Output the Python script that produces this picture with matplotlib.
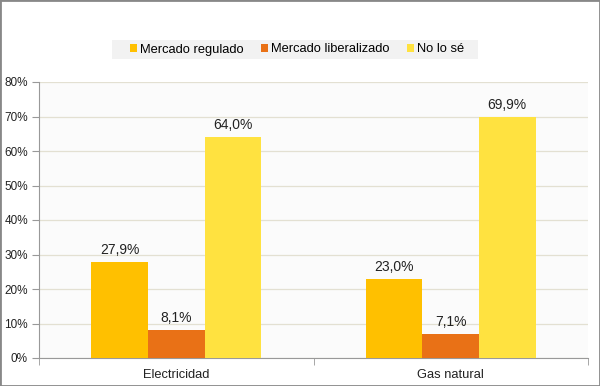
import matplotlib
matplotlib.use("Agg")
import matplotlib.pyplot as plt
import numpy as np
from matplotlib.patches import Rectangle

categories = ["Electricidad", "Gas natural"]
series_names = ["Mercado regulado", "Mercado liberalizado", "No lo sé"]
regulado = [27.9, 23.0]
liberalizado = [8.1, 7.1]
no_lo_se = [64.0, 69.9]
yticks = [0, 10, 20, 30, 40, 50, 60, 70, 80]

colors = ["#FFC000", "#E97116", "#FFE240"]

plt.rcParams['font.family'] = ['Liberation Sans', 'DejaVu Sans']

fig = plt.figure(figsize=(6, 3.86), dpi=100)
ax = fig.add_axes([39/600, 28/386, 549/600, 276/386])
ax.set_facecolor("#FBFBFB")

x = np.arange(len(categories))
w = 0.206
data = [regulado, liberalizado, no_lo_se]
for i, (vals, name, c) in enumerate(zip(data, series_names, colors)):
    pos = x + (i - 1) * w
    bars = ax.bar(pos, vals, width=w, color=c, label=name, zorder=3)
    for b, v in zip(bars, vals):
        ax.text(b.get_x() + b.get_width()/2, v + 1.4, f"{v:.1f}%".replace(".", ","),
                ha="center", va="bottom", fontsize=10, color="#222222", zorder=4)

ax.set_xlim(-0.5, 1.5)
ax.set_ylim(0, 80)
ax.set_yticks(yticks)
ax.set_yticklabels([f"{t}%" for t in yticks], fontsize=8.5, color="#222222")
ax.yaxis.grid(True, color="#E3E0D2", linewidth=0.9, zorder=0)
ax.set_xticks(x)
ax.set_xticklabels(categories, fontsize=9.3, color="#222222")
ax.tick_params(axis="x", length=0, pad=8)
ax.set_xticks([-0.5, 0.5, 1.5], minor=True)
ax.tick_params(axis="x", which="minor", length=5, color="#999999")
ax.tick_params(axis="y", length=5, color="#999999", pad=3)
for s in ["top", "right"]:
    ax.spines[s].set_visible(False)
ax.spines["left"].set_color("#999999")
ax.spines["bottom"].set_color("#999999")

# legend background box
fig.patches.append(Rectangle((112/600, 1 - 59/386), 366/600, 19/386,
                             transform=fig.transFigure, facecolor="#F2F2F2",
                             edgecolor="none", zorder=0))
leg = fig.legend(loc="center", bbox_to_anchor=(297/600, 1 - 49.5/386), ncol=3,
                 frameon=False, fontsize=9.3, handlelength=0.55, handleheight=0.55,
                 handletextpad=0.18, columnspacing=1.4, borderpad=0,
                 borderaxespad=0)

fig.patches.append(Rectangle((0, 0), 1, 1, transform=fig.transFigure, fill=False,
                             edgecolor="#888888", linewidth=2))
fig.savefig("out.png", dpi=100)
